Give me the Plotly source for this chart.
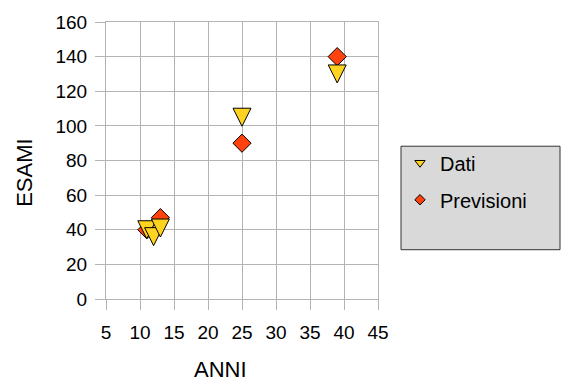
import plotly.graph_objects as go

# Observed exam counts by year, and the model's forecast values
anni_dati = [11, 12, 13, 25, 39]
esami_dati = [40, 36, 41, 105, 130]

anni_prev = [11, 13, 25, 39]
esami_prev = [40, 47, 90, 140]

x_ticks = [5, 10, 15, 20, 25, 30, 35, 40, 45]
y_ticks = [0, 20, 40, 60, 80, 100, 120, 140, 160]

YELLOW = "#FFD320"
ORANGE = "#FF420E"
GRID = "#b3b3b3"
FONT = "Liberation Sans, Arial, sans-serif"

fig = go.Figure()

# forecasts first so the observed markers sit on top of them
fig.add_trace(go.Scatter(
    x=anni_prev, y=esami_prev, mode="markers", name="Previsioni",
    showlegend=False,
    marker=dict(symbol="diamond", size=14, color=ORANGE,
                line=dict(color="black", width=1)),
))
# arrow-down has its tip on the point; standoff recentres it
fig.add_trace(go.Scatter(
    x=anni_dati, y=esami_dati, mode="markers", name="Dati",
    showlegend=False,
    marker=dict(symbol="arrow-down", size=18, standoff=9, color=YELLOW,
                line=dict(color="black", width=1)),
))

# legend entries with smaller icons, one group each for wider spacing
fig.add_trace(go.Scatter(
    x=[None], y=[None], mode="markers", name="Dati", legendrank=1,
    legendgroup="dati",
    marker=dict(symbol="triangle-down", size=9, color=YELLOW,
                line=dict(color="black", width=1)),
))
fig.add_trace(go.Scatter(
    x=[None], y=[None], mode="markers", name="Previsioni", legendrank=2,
    legendgroup="prev",
    marker=dict(symbol="diamond", size=8, color=ORANGE,
                line=dict(color="black", width=1)),
))

axis_common = dict(
    showgrid=True, gridcolor=GRID, gridwidth=1,
    showline=True, linecolor=GRID, linewidth=1, mirror=True,
    ticks="outside", ticklen=10, tickcolor=GRID, tickwidth=1,
    zeroline=False, tickfont=dict(family=FONT, size=19, color="black"),
)

fig.update_xaxes(range=[5, 45], tickvals=x_ticks,
                 ticklabelstandoff=6, **axis_common)
fig.update_yaxes(range=[0, 160], tickvals=y_ticks,
                 ticklabelstandoff=4, **axis_common)

# legend frame
fig.add_shape(type="rect", xref="paper", yref="paper",
              x0=(401 - 106) / 272, x1=(560 - 106) / 272,
              y0=(299 - 249) / 281, y1=(299 - 144) / 281,
              fillcolor="#d9d9d9", line=dict(color="#333333", width=1),
              layer="below")

fig.update_layout(
    width=561, height=381,
    margin=dict(l=106, r=183, t=18, b=82),
    paper_bgcolor="white", plot_bgcolor="white",
    font=dict(family=FONT, color="black"),
    showlegend=True,
    legend=dict(x=(400 - 106) / 272, y=(299 - 141) / 281,
                xanchor="left", yanchor="top",
                bgcolor="rgba(0,0,0,0)", borderwidth=0,
                font=dict(family=FONT, size=20, color="black"),
                itemsizing="trace", traceorder="grouped",
                tracegroupgap=8),
    annotations=[
        dict(text="ANNI", xref="paper", yref="paper",
             x=(220 - 106) / 272, y=(299 - 371) / 281,
             xanchor="center", yanchor="middle", showarrow=False,
             font=dict(family=FONT, size=22, color="black")),
        dict(text="ESAMI", xref="paper", yref="paper",
             x=(25 - 106) / 272, y=(299 - 171) / 281, textangle=-90,
             xanchor="center", yanchor="middle", showarrow=False,
             font=dict(family=FONT, size=22, color="black")),
    ],
)

fig.write_html("out.html")
